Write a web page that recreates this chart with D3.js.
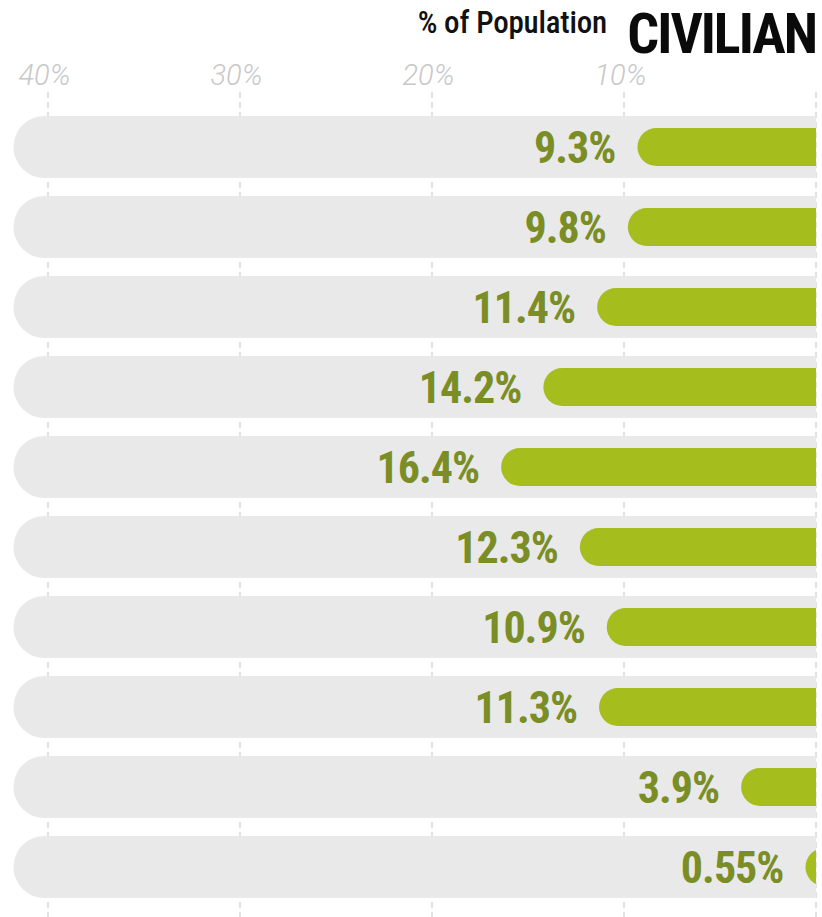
<!DOCTYPE html>
<html>
<head>
<meta charset="utf-8">
<script src="https://cdn.jsdelivr.net/npm/d3@7"></script>
<style>
  html, body { margin: 0; padding: 0; background: #fff; }
  svg { display: block; }
</style>
</head>
<body>
<svg id="chart" width="822" height="917"></svg>
<script>
// ---- data ----
const rows = ["r1", "r2", "r3", "r4", "r5", "r6", "r7", "r8", "r9", "r10"];
const civilianValues = [9.3, 9.8, 11.4, 14.2, 16.4, 12.3, 10.9, 11.3, 3.9, 0.55];
const valueLabels = ["9.3%", "9.8%", "11.4%", "14.2%", "16.4%", "12.3%", "10.9%", "11.3%", "3.9%", "0.55%"];
const tickValues = [40, 30, 20, 10, 0];
const tickLabels = ["40%", "30%", "20%", "10%", ""];
const unitLabel = "% of Population";
const seriesTitle = "CIVILIAN";

// ---- layout ----
const W = 822, H = 917;
const svg = d3.select("#chart");
const condensed = "'Roboto Condensed', 'Liberation Sans Narrow', 'Arial Narrow', sans-serif";

const x = d3.scaleLinear().domain([0, 40]).range([816, 48]);
const y = d3.scaleBand().domain(rows).range([107, 907]).paddingInner(0.225).paddingOuter(0.1125);
const bgMax = 41.8;

// clip for flat right end
svg.append("defs").append("clipPath").attr("id", "clipR")
  .append("rect").attr("x", 0).attr("y", 0).attr("width", x(0)).attr("height", H);

// header
svg.append("text")
  .attr("x", 607).attr("y", 33)
  .attr("text-anchor", "end")
  .attr("font-family", condensed)
  .attr("font-size", 31)
  .attr("font-weight", 500)
  .attr("letter-spacing", -0.2)
  .attr("fill", "#111")
  .text(unitLabel);
svg.append("text")
  .attr("x", 816).attr("y", 53)
  .attr("text-anchor", "end")
  .attr("font-family", condensed)
  .attr("font-weight", "bold")
  .attr("font-size", 56)
  .attr("letter-spacing", -2)
  .attr("fill", "#0a0a0a")
  .text(seriesTitle);

// axis
const axis = d3.axisTop(x).tickValues(tickValues)
  .tickFormat((d, i) => tickLabels[i]).tickSize(0).tickPadding(0);
const gAxis = svg.append("g").attr("transform", "translate(-4,85)").call(axis);
gAxis.select(".domain").remove();
gAxis.selectAll("text")
  .attr("font-family", "Roboto, 'Open Sans', sans-serif")
  .attr("font-style", "italic")
  .attr("font-weight", 300)
  .attr("font-size", 29)
  .attr("fill", "#c8c8c8");

// grid lines (beneath bars)
svg.append("g").selectAll("line").data(tickValues).join("line")
  .attr("x1", d => x(d)).attr("x2", d => x(d))
  .attr("y1", 92).attr("y2", H)
  .attr("stroke", "#cfcfcf")
  .attr("stroke-width", 1.2)
  .attr("stroke-dasharray", "6,4");

// background bars
const bh = y.bandwidth();
svg.append("g").attr("clip-path", "url(#clipR)")
  .selectAll("rect").data(rows).join("rect")
  .attr("x", x(bgMax))
  .attr("y", d => y(d))
  .attr("width", x(0) + bh - x(bgMax))
  .attr("height", bh)
  .attr("rx", bh / 2)
  .attr("fill", "#e9e9e9");

// value bars
const gh = 38;
svg.append("g").attr("clip-path", "url(#clipR)")
  .selectAll("rect").data(civilianValues).join("rect")
  .attr("x", d => x(d))
  .attr("y", (d, i) => y(rows[i]) + bh / 2 - gh / 2)
  .attr("width", d => x(0) + gh - x(d))
  .attr("height", gh)
  .attr("rx", gh / 2)
  .attr("fill", "#a6bd1e");

// value labels
svg.append("g").selectAll("text").data(civilianValues).join("text")
  .attr("x", d => x(d) - 22)
  .attr("y", (d, i) => y(rows[i]) + bh / 2 + 16)
  .attr("text-anchor", "end")
  .attr("font-family", condensed)
  .attr("font-weight", "bold")
  .attr("font-size", 44)
  .attr("letter-spacing", -1)
  .attr("fill", "#7a8e25")
  .text((d, i) => valueLabels[i]);
</script>
</body>
</html>
